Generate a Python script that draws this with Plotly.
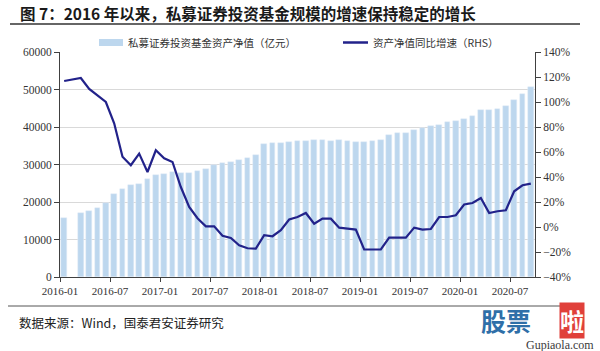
import plotly.graph_objects as go

# ---- data ----
months = ["2016-01","2016-02","2016-03","2016-04","2016-05","2016-06","2016-07","2016-08","2016-09","2016-10","2016-11","2016-12",
          "2017-01","2017-02","2017-03","2017-04","2017-05","2017-06","2017-07","2017-08","2017-09","2017-10","2017-11","2017-12",
          "2018-01","2018-02","2018-03","2018-04","2018-05","2018-06","2018-07","2018-08","2018-09","2018-10","2018-11","2018-12",
          "2019-01","2019-02","2019-03","2019-04","2019-05","2019-06","2019-07","2019-08","2019-09","2019-10","2019-11","2019-12",
          "2020-01","2020-02","2020-03","2020-04","2020-05","2020-06","2020-07","2020-08","2020-09"]
net_assets = [15730, None, 17170, 17600, 18500, 19840, 22240, 23570, 24450, 24900, 26240, 27300,
              27570, 28000, 27730, 27730, 28270, 28900, 29790, 30400, 30670, 31300, 31840, 32640,
              35570, 35750, 35840, 36100, 36180, 36270, 36620, 36450, 36180, 36450, 36180, 36000,
              36100, 36270, 36450, 37800, 38500, 38500, 39300, 39840, 40270, 40620, 41340, 41600,
              42240, 42850, 44450, 44450, 44900, 45520, 47120, 48900, 50670]
yoy_growth = [116.8, 118.0, 119.2, 110.5, 105.4, 100.0, 83.0, 56.2, 49.4, 58.7, 44.0, 61.4,
              55.0, 52.0, 32.0, 16.0, 7.0, 0.5, 0.5, -7.0, -8.8, -14.6, -17.0, -17.3,
              -6.6, -7.4, -2.6, 6.0, 8.0, 11.2, 2.6, 6.7, 6.7, -0.5, -1.3, -2.1,
              -18.0, -18.0, -18.0, -8.5, -8.5, -8.5, -0.5, -2.1, -1.6, 8.0, 8.0, 9.4,
              18.0, 19.2, 23.2, 11.2, 12.6, 13.4, 28.6, 33.4, 34.7]
tick_labels = ["2016-01","2016-07","2017-01","2017-07","2018-01","2018-07","2019-01","2019-07","2020-01","2020-07"]
bar_name = "私募证券投资基金资产净值（亿元）"
line_name = "资产净值同比增速（RHS）"
title_text = "图 7：2016 年以来，私募证券投资基金规模的增速保持稳定的增长"
source_text = "数据来源：Wind，国泰君安证券研究"

# ---- figure ----
xpos = [i + 0.5 for i in range(len(months))]
tickpos = [months.index(t) for t in tick_labels]

BAR_C = "#BDD7EE"
LINE_C = "#22228A"
CJK = "Noto Sans CJK SC"
NUM = "Liberation Serif"

fig = go.Figure()
fig.add_trace(go.Bar(x=xpos, y=net_assets, name=bar_name, marker_color=BAR_C,
                     width=0.66, showlegend=False))
fig.add_trace(go.Scatter(x=xpos, y=yoy_growth, name=line_name, mode="lines",
                         line=dict(color=LINE_C, width=2.2), yaxis="y2", showlegend=False))

L, R, T, B = 60, 65, 52, 74
W, H = 600, 351
pw, ph = W - L - R, H - T - B

def px(x):
    return (x - L) / pw

def py(y):
    return (H - B - y) / ph

fig.update_layout(
    width=W, height=H,
    margin=dict(l=L, r=R, t=T, b=B),
    paper_bgcolor="white", plot_bgcolor="white",
    bargap=0,
    xaxis=dict(range=[0, len(months)], tickvals=tickpos, ticktext=tick_labels,
               showgrid=False, showline=True, linecolor="#404040", linewidth=1,
               ticks="outside", ticklen=4, tickcolor="#404040",
               tickfont=dict(family=NUM, size=11, color="#333333"), zeroline=False),
    yaxis=dict(range=[0, 60000], dtick=10000, showgrid=True, gridcolor="#D9D9D9", gridwidth=1,
               showline=True, linecolor="#404040", linewidth=1, ticks="outside", ticklen=5,
               tickcolor="#404040", tickfont=dict(family=NUM, size=11.5, color="#333333"),
               zeroline=False, tickformat="d"),
    yaxis2=dict(range=[-40, 140], dtick=20, overlaying="y", side="right", showgrid=False,
                showline=True, linecolor="#404040", linewidth=1, ticks="outside", ticklen=5,
                tickcolor="#404040", ticksuffix="%", zeroline=False,
                tickfont=dict(family=NUM, size=11.5, color="#333333")),
)

shapes = []
annotations = []
# title rule and bottom rule
shapes.append(dict(type="line", xref="paper", yref="paper", x0=px(10), x1=px(580), y0=py(24), y1=py(24),
                   line=dict(color="#333333", width=1.5)))
shapes.append(dict(type="line", xref="paper", yref="paper", x0=px(8), x1=px(580), y0=py(306), y1=py(306),
                   line=dict(color="#555555", width=1)))
# legend
shapes.append(dict(type="rect", xref="paper", yref="paper", x0=px(99), x1=px(123), y0=py(46), y1=py(39),
                   fillcolor=BAR_C, line=dict(width=0)))
shapes.append(dict(type="line", xref="paper", yref="paper", x0=px(343), x1=px(368), y0=py(42.5), y1=py(42.5),
                   line=dict(color=LINE_C, width=2.5)))
annotations.append(dict(text=bar_name, xref="paper", yref="paper", x=px(126), y=py(43), xanchor="left",
                        yanchor="middle", showarrow=False, font=dict(family=CJK, size=10.5, color="#333333")))
annotations.append(dict(text=line_name, xref="paper", yref="paper", x=px(371), y=py(43), xanchor="left",
                        yanchor="middle", showarrow=False, font=dict(family=CJK, size=10.5, color="#333333")))
# title
annotations.append(dict(text="<b>" + title_text + "</b>", xref="paper", yref="paper", x=px(18), y=py(13),
                        xanchor="left", yanchor="middle", showarrow=False,
                        font=dict(family=CJK, size=15.5, color="#1a1a1a")))
# source
annotations.append(dict(text=source_text, xref="paper", yref="paper", x=px(17), y=py(322),
                        xanchor="left", yanchor="middle", showarrow=False,
                        font=dict(family=CJK, size=12.5, color="#222222")))
# watermark
annotations.append(dict(text="<b>股票</b>", xref="paper", yref="paper", x=px(480), y=py(320),
                        xanchor="left", yanchor="middle", showarrow=False, borderpad=0,
                        font=dict(family=CJK, size=25, color="#2F6FA8")))
annotations.append(dict(text="<b>啦</b>", xref="paper", yref="paper", x=px(572), y=py(320),
                        xanchor="center", yanchor="middle", showarrow=False, bgcolor="#E0403A",
                        borderpad=0, font=dict(family=CJK, size=24, color="white")))
annotations.append(dict(text="Gupiaola.com", xref="paper", yref="paper", x=px(595), y=py(344.5),
                        xanchor="right", yanchor="middle", showarrow=False, borderpad=0,
                        font=dict(family=NUM, size=12, color="#3a3a3a")))

fig.update_layout(shapes=shapes, annotations=annotations)
fig.write_html("out.html")
